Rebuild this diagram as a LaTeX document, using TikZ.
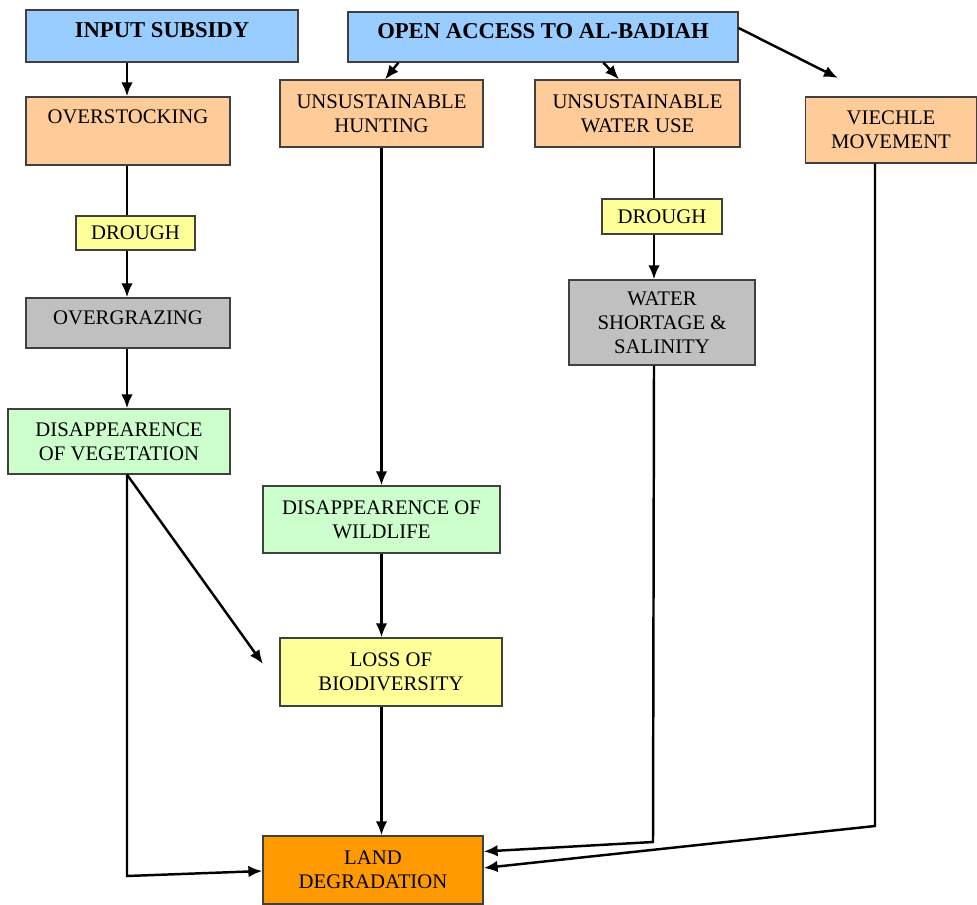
\documentclass[tikz,border=0pt]{standalone}
\usepackage{fontspec}
\setmainfont{Liberation Serif}
\newfontfamily\boxfont{Liberation Serif}
\usepackage{tikz}
\usetikzlibrary{arrows.meta,calc,positioning}

\definecolor{skyblue}{HTML}{99CCFF}
\definecolor{peach}{HTML}{FFCC99}
\definecolor{paleyellow}{HTML}{FFFF99}
\definecolor{palegray}{HTML}{C0C0C0}
\definecolor{palegreen}{HTML}{CCFFCC}
\definecolor{deeporange}{HTML}{FF9900}

\tikzset{
  causebox/.style={rectangle, draw=black!75, line width=0.7pt, align=center,
    inner sep=0pt, font=\boxfont\fontsize{11.8}{13.7}\selectfont},
  titlebox/.style={causebox, fill=skyblue, text depth=0.24cm,
    font=\boxfont\fontsize{12.9}{15}\selectfont\bfseries},
  flow/.style={line width=1.4pt, -{Latex[length=2.8mm,width=2.3mm]}},
  link/.style={line width=1.4pt}
}

\begin{document}
\begin{tikzpicture}
\useasboundingbox (0,0) rectangle (19.54,-18.1);

\node (subsidy) [titlebox, minimum width=5.44cm, minimum height=1.04cm]
    at (3.24,-0.72) {INPUT SUBSIDY};
\node (access) [titlebox, minimum width=7.8cm, minimum height=1cm]
    at (10.86,-0.74) {OPEN ACCESS TO AL-BADIAH};

\node (overstock) [causebox, fill=peach, text depth=0.56cm,
    minimum width=4.08cm, minimum height=1.36cm] at (2.56,-2.62) {OVERSTOCKING};
\node (hunting) [causebox, fill=peach,
    minimum width=4.06cm, minimum height=1.34cm] at (7.63,-2.27) {UNSUSTAINABLE\\HUNTING};
\node (wateruse) [causebox, fill=peach,
    minimum width=4.1cm, minimum height=1.34cm] at (12.75,-2.27) {UNSUSTAINABLE\\WATER USE};
\node (vehicle) [causebox, fill=peach,
    minimum width=3.42cm, minimum height=1.32cm] at (17.82,-2.6) {VIECHLE\\MOVEMENT};

\node (drough1) [causebox, fill=paleyellow,
    minimum width=2.38cm, minimum height=0.68cm] at (2.71,-4.66) {DROUGH};
\node (overgraze) [causebox, fill=palegray, text depth=0.2cm,
    minimum width=4.08cm, minimum height=1cm] at (2.56,-6.46) {OVERGRAZING};
\node (vegetation) [causebox, fill=palegreen,
    minimum width=4.44cm, minimum height=1.3cm] at (2.38,-8.83) {DISAPPEARENCE\\OF VEGETATION};

\node (drough2) [causebox, fill=paleyellow,
    minimum width=2.4cm, minimum height=0.7cm] at (13.24,-4.33) {DROUGH};
\node (shortage) [causebox, fill=palegray,
    minimum width=3.72cm, minimum height=1.7cm] at (13.24,-6.45) {WATER\\SHORTAGE \&\\SALINITY};

\node (wildlife) [causebox, fill=palegreen,
    minimum width=4.74cm, minimum height=1.34cm] at (7.63,-10.39) {DISAPPEARENCE OF\\WILDLIFE};
\node (biodiv) [causebox, fill=paleyellow,
    minimum width=4.44cm, minimum height=1.36cm] at (7.82,-13.44) {LOSS OF\\BIODIVERSITY};
\node (land) [causebox, fill=deeporange,
    minimum width=4.4cm, minimum height=1.36cm] at (7.46,-17.4) {LAND\\DEGRADATION};

\coordinate (lcol) at (2.54,0);
\coordinate (wcol) at (13.08,0);
\coordinate (vcol) at (17.5,0);
\coordinate (vehtip) at (16.76,-1.56);
\coordinate (biotip) at (5.26,-13.28);
\coordinate (bendL) at (2.54,-17.52);
\coordinate (bendW) at (13.06,-16.84);
\coordinate (bendV) at (17.5,-16.52);

\draw[flow] (lcol |- subsidy.south) -- (lcol |- overstock.north);
\draw[flow] ($(access.south west)+(1.02,0)$) -- ($(hunting.north)+(0.07,0)$);
\draw[flow] ($(access.south west)+(5.12,0)$) -- ($(wateruse.north)+(-0.37,0)$);
\draw[flow] ($(access.east)+(0,0.18)$) -- (vehtip);

\draw[link] (lcol |- overstock.south) -- (lcol |- drough1.north);
\draw[flow] (lcol |- drough1.south) -- (lcol |- overgraze.north);
\draw[flow] (lcol |- overgraze.south) -- (lcol |- vegetation.north);
\draw[flow] (lcol |- vegetation.south) -- (biotip);
\draw[flow] (lcol |- vegetation.south) -- (bendL) -- ($(land.west)+(0,-0.02)$);

\draw[flow] (hunting.south) -- (wildlife.north);
\draw[flow] (wildlife.south) -- (wildlife.south |- biodiv.north);
\draw[flow] (wildlife.south |- biodiv.south) -- (wildlife.south |- land.north);

\draw[link] (wcol |- wateruse.south) -- (wcol |- drough2.north);
\draw[flow] (wcol |- drough2.south) -- (wcol |- shortage.north);
\draw[flow] (wcol |- shortage.south) -- (bendW) -- ($(land.east)+(0,0.37)$);
\draw[flow] (vcol |- vehicle.south) -- (bendV) -- ($(land.east)+(0,0.04)$);
\end{tikzpicture}
\end{document}
